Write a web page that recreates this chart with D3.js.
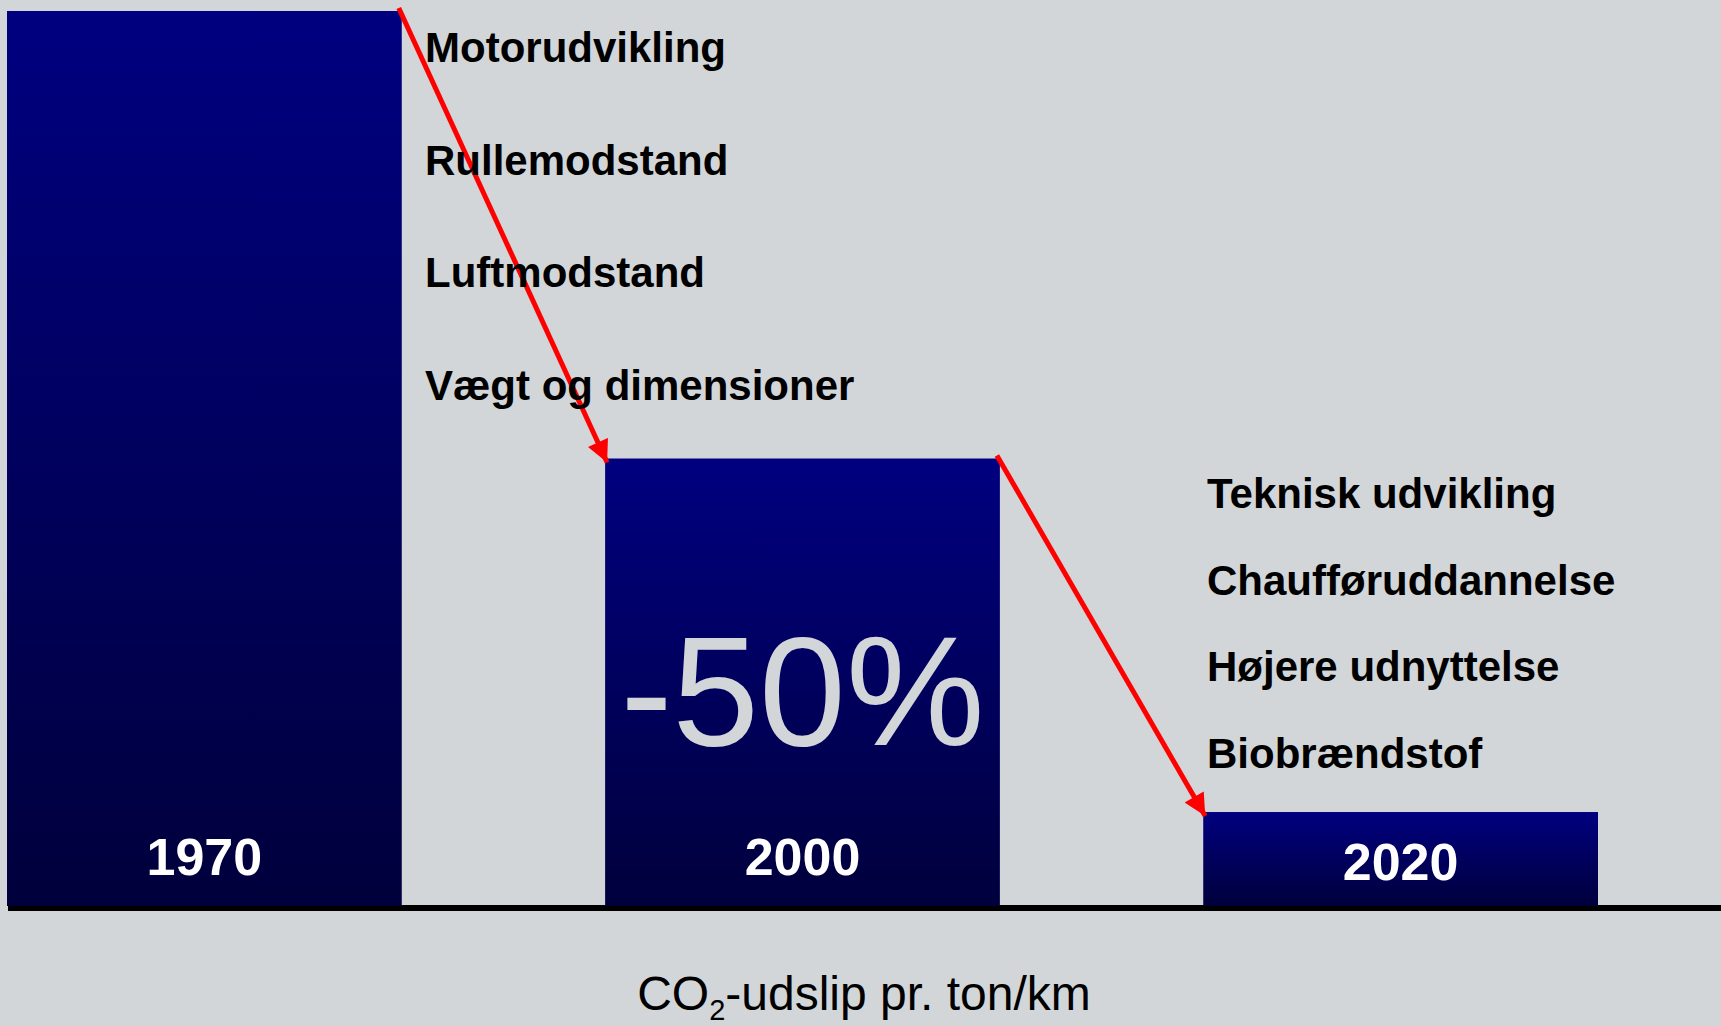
<!DOCTYPE html>
<html>
<head>
<meta charset="utf-8">
<script src="https://cdn.jsdelivr.net/npm/d3@7"></script>
<style>
  body { margin: 0; background: #d2d6d9; }
  svg { display: block; font-family: "Liberation Sans", Arial, sans-serif; }
</style>
</head>
<body>
<script>
// data
var years = ["1970", "2000", "2020"];
var emissions = [100, 50, 10.5];
var factorsBefore = ["Motorudvikling", "Rullemodstand", "Luftmodstand", "Vægt og dimensioner"];
var factorsAfter = ["Teknisk udvikling", "Chaufføruddannelse", "Højere udnyttelse", "Biobrændstof"];
var reduction = "-50%";

var width = 1721, height = 1026;

var svg = d3.select("body").append("svg")
    .attr("width", width)
    .attr("height", height);

svg.append("rect")
    .attr("width", width).attr("height", height)
    .attr("fill", "#d2d6d9");

var defs = svg.append("defs");
var grad = defs.append("linearGradient")
    .attr("id", "barGrad")
    .attr("x1", 0).attr("y1", 0).attr("x2", 0).attr("y2", 1);
grad.append("stop").attr("offset", "0%").attr("stop-color", "#000080");
grad.append("stop").attr("offset", "100%").attr("stop-color", "#00003c");

defs.append("marker")
    .attr("id", "head")
    .attr("viewBox", "0 0 10 10")
    .attr("refX", 10).attr("refY", 5)
    .attr("markerWidth", 4.6).attr("markerHeight", 4.4)
    .attr("markerUnits", "strokeWidth")
    .attr("orient", "auto")
  .append("path")
    .attr("d", "M0,0 L10,5 L0,10 Z")
    .attr("fill", "#ff0000");

var x = d3.scaleBand()
    .domain(years)
    .range([7, 1598])
    .paddingInner(0.34)
    .paddingOuter(0);

var y = d3.scaleLinear()
    .domain([0, 100])
    .range([906, 11]);

// baseline
svg.append("line")
    .attr("x1", 8).attr("x2", width)
    .attr("y1", y(0) + 2).attr("y2", y(0) + 2)
    .attr("stroke", "#000")
    .attr("stroke-width", 6);

var data = years.map(function (d, i) { return { year: d, value: emissions[i] }; });

svg.selectAll("rect.bar")
    .data(data)
    .enter().append("rect")
    .attr("class", "bar")
    .attr("x", function (d) { return x(d.year); })
    .attr("y", function (d) { return y(d.value); })
    .attr("width", x.bandwidth())
    .attr("height", function (d) { return y(0) - y(d.value); })
    .attr("fill", "url(#barGrad)");

// year labels near the bottom of each bar
svg.selectAll("text.year")
    .data(data)
    .enter().append("text")
    .attr("class", "year")
    .attr("x", function (d) { return x(d.year) + x.bandwidth() / 2; })
    .attr("y", function (d) {
      var mid = (y(d.value) + y(0)) / 2 + 21;
      return Math.max(y(0) - 31, mid);
    })
    .attr("text-anchor", "middle")
    .attr("font-weight", "bold")
    .attr("font-size", 52)
    .attr("fill", "#fff")
    .text(function (d) { return d.year; });

// -50% in the 2000 bar
svg.append("text")
    .attr("x", x("2000") + x.bandwidth() / 2)
    .attr("y", 745)
    .attr("text-anchor", "middle")
    .attr("font-size", 156)
    .attr("fill", "#d2d6d9")
    .text(reduction);

// arrows from one bar's top-right corner to the next bar's top-left
for (var i = 0; i < data.length - 1; i++) {
  var a = data[i], b = data[i + 1];
  svg.append("line")
    .attr("x1", x(a.year) + x.bandwidth() - 3)
    .attr("y1", y(a.value) - 3)
    .attr("x2", x(b.year) + 2)
    .attr("y2", y(b.value) + 4)
    .attr("stroke", "#ff0000")
    .attr("stroke-width", 5)
    .attr("marker-end", "url(#head)");
}

// factor lists
var leftY = d3.scalePoint().domain(factorsBefore).range([62, 400]);
svg.selectAll("text.before")
    .data(factorsBefore)
    .enter().append("text")
    .attr("class", "before")
    .attr("x", 425)
    .attr("y", function (d) { return leftY(d); })
    .attr("font-weight", "bold")
    .attr("font-size", 42)
    .attr("fill", "#000")
    .text(function (d) { return d; });

var rightY = d3.scalePoint().domain(factorsAfter).range([508, 768]);
svg.selectAll("text.after")
    .data(factorsAfter)
    .enter().append("text")
    .attr("class", "after")
    .attr("x", 1207)
    .attr("y", function (d) { return rightY(d); })
    .attr("font-weight", "bold")
    .attr("font-size", 42)
    .attr("fill", "#000")
    .text(function (d) { return d; });

// axis title
var title = svg.append("text")
    .attr("x", 864)
    .attr("y", 1010)
    .attr("text-anchor", "middle")
    .attr("font-size", 48)
    .attr("fill", "#000");
title.append("tspan").text("CO");
title.append("tspan").attr("font-size", 29).attr("dy", 10).text("2");
title.append("tspan").attr("dy", -10).text("-udslip pr. ton/km");
</script>
</body>
</html>
